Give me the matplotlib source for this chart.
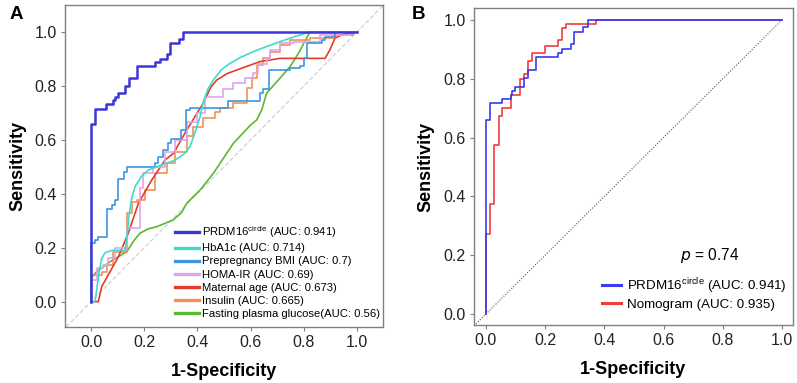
import numpy as np
import matplotlib
matplotlib.use("Agg")
import matplotlib.pyplot as plt

plt.rcParams["font.family"] = ["Liberation Sans", "DejaVu Sans"]

#####################################################
# data (fpr, tpr)
#####################################################

# step curves: at each fpr the curve rises to the tpr value
prdm16_fpr = [0.0, 0.0, 0.0135, 0.056, 0.084, 0.09, 0.1, 0.128, 0.143, 0.171, 0.242, 0.258, 0.286, 0.298, 0.329, 0.344, 1.0]
prdm16_tpr = [0.0, 0.658, 0.716, 0.731, 0.746, 0.757, 0.772, 0.801, 0.829, 0.874, 0.888, 0.901, 0.918, 0.959, 0.974, 1.0, 1.0]

nomo_fpr = [0.0, 0.0, 0.0135, 0.029, 0.044, 0.056, 0.084, 0.115, 0.128, 0.143, 0.157, 0.2, 0.242, 0.258, 0.27, 0.372, 1.0]
nomo_tpr = [0.0, 0.272, 0.373, 0.573, 0.673, 0.701, 0.744, 0.80, 0.816, 0.859, 0.888, 0.91, 0.93, 0.973, 0.987, 1.0, 1.0]

bmi_fpr = [0.0, 0.0, 0.015, 0.025, 0.059, 0.078, 0.09, 0.1, 0.125, 0.134, 0.24, 0.253, 0.272, 0.29, 0.3, 0.34, 0.357, 0.372,
           0.516, 0.635, 0.648, 0.67, 0.748, 0.786, 0.80, 0.813, 0.867, 0.88, 0.917, 1.0]
bmi_tpr = [0.0, 0.216, 0.229, 0.239, 0.343, 0.358, 0.377, 0.454, 0.482, 0.50, 0.513, 0.538, 0.562, 0.587, 0.602, 0.637, 0.711, 0.717,
           0.745, 0.773, 0.788, 0.859, 0.865, 0.875, 0.902, 0.958, 0.97, 0.982, 1.0, 1.0]

homa_fpr = [0.0, 0.005, 0.021, 0.046, 0.065, 0.09, 0.134, 0.184, 0.197, 0.234, 0.278, 0.316, 0.36, 0.397, 0.429, 0.497, 0.535,
            0.579, 0.61, 0.629, 0.66, 0.673, 0.71, 0.76, 0.861, 0.974, 1.0]
homa_tpr = [0.0, 0.08, 0.124, 0.136, 0.161, 0.198, 0.272, 0.42, 0.476, 0.50, 0.556, 0.60, 0.667, 0.70, 0.76, 0.79, 0.81,
            0.828, 0.847, 0.882, 0.90, 0.933, 0.958, 0.964, 0.989, 1.0, 1.0]

insulin_fpr = [0.0, 0.0, 0.005, 0.04, 0.059, 0.084, 0.134, 0.153, 0.172, 0.203, 0.24, 0.284, 0.316, 0.36, 0.385, 0.422, 0.466,
               0.485, 0.535, 0.585, 0.604, 0.623, 0.648, 0.673, 0.71, 0.748, 0.823, 0.91, 0.986, 1.0]
insulin_tpr = [0.0, 0.056, 0.099, 0.111, 0.136, 0.185, 0.328, 0.371, 0.377, 0.414, 0.476, 0.513, 0.556, 0.614, 0.649, 0.68, 0.704,
               0.717, 0.736, 0.791, 0.828, 0.878, 0.902, 0.927, 0.952, 0.97, 0.977, 0.989, 1.0, 1.0]

# smoothed curves
hba1c_fpr = [0.0, 0.015, 0.022, 0.03, 0.04, 0.053, 0.08, 0.128, 0.135, 0.142, 0.152, 0.165, 0.19, 0.215, 0.26, 0.316, 0.35, 0.372,
             0.39, 0.41, 0.422, 0.44, 0.46, 0.49, 0.523, 0.565, 0.61, 0.66, 0.71, 0.77, 0.823, 1.0]
hba1c_tpr = [0.0, 0.0, 0.05, 0.11, 0.16, 0.182, 0.19, 0.19, 0.24, 0.315, 0.38, 0.426, 0.465, 0.488, 0.505, 0.525, 0.548, 0.575,
             0.625, 0.686, 0.74, 0.79, 0.822, 0.86, 0.884, 0.907, 0.927, 0.946, 0.964, 0.984, 1.0, 1.0]

age_fpr = [0.0, 0.027, 0.04, 0.103, 0.14, 0.178, 0.228, 0.278, 0.31, 0.36, 0.422, 0.45, 0.473, 0.51, 0.548, 0.635, 0.71,
           0.88, 0.898, 0.917, 0.945, 0.974, 1.0]
age_tpr = [0.0, 0.0, 0.056, 0.167, 0.254, 0.365, 0.451, 0.525, 0.55, 0.637, 0.736, 0.795, 0.822, 0.845, 0.859, 0.89, 0.902,
           0.902, 0.933, 0.977, 0.99, 0.995, 1.0]

glucose_fpr = [0.0, 0.0, 0.02, 0.071, 0.134, 0.16, 0.184, 0.215, 0.247, 0.309, 0.34, 0.36, 0.385, 0.41, 0.46, 0.535, 0.6, 0.623,
               0.642, 0.66, 0.71, 0.748, 0.78, 0.80, 0.823, 1.0]
glucose_tpr = [0.0, 0.088, 0.11, 0.148, 0.185, 0.225, 0.254, 0.27, 0.278, 0.303, 0.33, 0.365, 0.39, 0.414, 0.476, 0.587, 0.655, 0.674,
               0.711, 0.773, 0.828, 0.871, 0.921, 0.958, 1.0, 1.0]

labels_a = [
    "PRDM16$^{\\mathregular{circle}}$ (AUC: 0.941)",
    "HbA1c (AUC: 0.714)",
    "Prepregnancy BMI (AUC: 0.7)",
    "HOMA-IR (AUC: 0.69)",
    "Maternal age (AUC: 0.673)",
    "Insulin (AUC: 0.665)",
    "Fasting plasma glucose(AUC: 0.56)",
]
labels_b = ["PRDM16$^{\\mathregular{circle}}$ (AUC: 0.941)", "Nomogram (AUC: 0.935)"]
p_text = "$\\it{p}$ = 0.74"

colors_a = ["#3A36D8", "#3EDCC8", "#3C96E0", "#DDA6E8", "#E53A2E", "#EE9257", "#5CB82E"]
colors_b = ["#3A3AF0", "#F03C3C"]

#####################################################
# figure
#####################################################

fig = plt.figure(figsize=(7.97, 3.83), dpi=100)
ax_a = fig.add_axes([0.0816, 0.1462, 0.399, 0.8408])
ax_b = fig.add_axes([0.5947, 0.1514, 0.4003, 0.8276])

curves_a = [
    (prdm16_fpr, prdm16_tpr, "steps-post", 1.8),
    (hba1c_fpr, hba1c_tpr, "default", 1.2),
    (bmi_fpr, bmi_tpr, "steps-post", 1.2),
    (homa_fpr, homa_tpr, "steps-post", 1.2),
    (age_fpr, age_tpr, "default", 1.2),
    (insulin_fpr, insulin_tpr, "steps-post", 1.2),
    (glucose_fpr, glucose_tpr, "default", 1.2),
]

ax_a.axline((0, 0), (1, 1), color="#CCCCCC", linestyle=(0, (4, 2)), linewidth=0.8, zorder=1)
# draw back to front so PRDM16 ends up on top
for (fpr, tpr, ds, lw), color, label in list(zip(curves_a, colors_a, labels_a))[::-1]:
    ax_a.plot(fpr, tpr, drawstyle=ds, color=color, linewidth=lw, label=label, zorder=2)

ax_a.set_xlim(-0.098, 1.098)
ax_a.set_ylim(-0.094, 1.1)

handles, labs = ax_a.get_legend_handles_labels()
leg = ax_a.legend(
    handles[::-1], labs[::-1],
    loc="lower right", bbox_to_anchor=(1.012, 0.005),
    frameon=False, fontsize=8.1, handlelength=2.1, handletextpad=0.3,
    labelspacing=0.27, borderaxespad=0.2,
)
for line in leg.get_lines():
    line.set_linewidth(2.4)

ax_b.plot([-0.04, 1.0], [-0.04, 1.0], color="#555555", linestyle=(0, (1, 1.5)), linewidth=0.8, zorder=1)
ax_b.plot(nomo_fpr, nomo_tpr, drawstyle="steps-post", color=colors_b[1], linewidth=1.2, label=labels_b[1], zorder=2)
ax_b.plot(prdm16_fpr, prdm16_tpr, drawstyle="steps-post", color=colors_b[0], linewidth=1.2, label=labels_b[0], zorder=3)
ax_b.set_xlim(-0.04, 1.037)
ax_b.set_ylim(-0.037, 1.04)
ax_b.text(0.757, 0.2, p_text, fontsize=11.2, ha="center", va="center")

handles, labs = ax_b.get_legend_handles_labels()
leg = ax_b.legend(
    handles[::-1], labs[::-1],
    loc="lower right", bbox_to_anchor=(1.005, 0.02),
    frameon=False, fontsize=9.6, handlelength=1.4, handletextpad=0.45,
    labelspacing=0.2, borderaxespad=0.2,
)
for line in leg.get_lines():
    line.set_linewidth(2.2)

for ax in (ax_a, ax_b):
    ax.set_xticks([0.0, 0.2, 0.4, 0.6, 0.8, 1.0])
    ax.set_yticks([0.0, 0.2, 0.4, 0.6, 0.8, 1.0])
    ax.xaxis.set_major_formatter(matplotlib.ticker.FormatStrFormatter("%.1f"))
    ax.yaxis.set_major_formatter(matplotlib.ticker.FormatStrFormatter("%.1f"))
    ax.tick_params(axis="both", labelsize=11.5, length=3, color="#808080", colors="#222222", pad=3)
    for spine in ax.spines.values():
        spine.set_color("#808080")
        spine.set_linewidth(1.0)
    ax.set_xlabel("1-Specificity", fontsize=13, fontweight="bold", labelpad=9)
    ax.set_ylabel("Sensitivity", fontsize=13, fontweight="bold", labelpad=6)

fig.text(0.012, 0.962, "A", fontsize=13.5, fontweight="bold", ha="left", va="center")
fig.text(0.516, 0.962, "B", fontsize=13.5, fontweight="bold", ha="left", va="center")

plt.savefig("out.png", dpi=100)
plt.close()
